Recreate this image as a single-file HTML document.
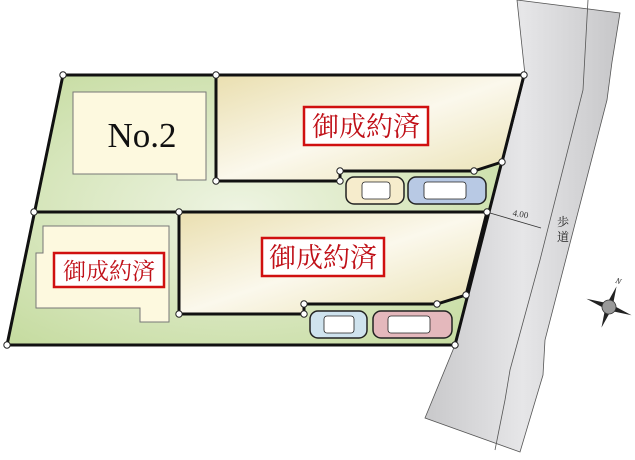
<!DOCTYPE html>
<html><head><meta charset="utf-8"><style>
html,body{margin:0;padding:0;background:#fff;}
svg{display:block;}
text{font-family:"Liberation Serif","Noto Serif CJK SC",serif;}
</style></head><body>
<svg width="635" height="460" viewBox="0 0 635 460" xmlns="http://www.w3.org/2000/svg">
<defs>
<linearGradient id="road" x1="0" y1="0" x2="1" y2="0">
<stop offset="0" stop-color="#c8c8ca"/><stop offset="0.5" stop-color="#e6e6e8"/><stop offset="1" stop-color="#c6c6c8"/></linearGradient>
<radialGradient id="grn" cx="0.45" cy="0.5" r="0.7">
<stop offset="0" stop-color="#eef4e2"/><stop offset="1" stop-color="#c3da9c"/></radialGradient>
<linearGradient id="lot" x1="0" y1="0" x2="1" y2="1">
<stop offset="0" stop-color="#eadfb0"/><stop offset="0.5" stop-color="#fbf8ec"/><stop offset="1" stop-color="#e9e0b0"/></linearGradient>
</defs>
<polygon points="517,0 620,13 612,62 607,100 545,340 543,375 520,452 425,418 455,345 487,212 525,75" fill="url(#road)" stroke="#555" stroke-width="0.8"/>
<polyline points="588,0 583,90 540,260 510,370 505,400 495,450" fill="none" stroke="#555" stroke-width="0.8"/>
<polygon points="63,75 524,75 455,345 7,345" fill="url(#grn)" stroke="#111" stroke-width="3"/>
<line x1="34" y1="212" x2="487" y2="212" stroke="#111" stroke-width="3"/>
<polygon points="216,75 524,75 502,162 474,171 340,171 340,181 216,181" fill="url(#lot)" stroke="#111" stroke-width="3"/>
<polygon points="179,212 487,212 466,295 437,304 304,304 304,314 179,314" fill="url(#lot)" stroke="#111" stroke-width="3"/>
<polygon points="73,92 206,92 206,180 177,180 177,174 73,174" fill="#fdf9df" stroke="#777" stroke-width="1"/>
<polygon points="43,226 169,226 169,322 140,322 140,308 36,308 36,253 43,253" fill="#fdf9df" stroke="#777" stroke-width="1"/>
<text x="142" y="147" font-size="35" text-anchor="middle" fill="#111">No.2</text>
<rect x="304" y="107" width="124" height="38" fill="#fff" stroke="#d01010" stroke-width="2.5"/>
<text x="366" y="136" font-size="27" text-anchor="middle" fill="#c01018">御成約済</text>
<rect x="262" y="238" width="122" height="38" fill="#fff" stroke="#d01010" stroke-width="2.5"/>
<text x="323" y="267" font-size="27" text-anchor="middle" fill="#c01018">御成約済</text>
<rect x="54" y="253" width="110" height="34" fill="#fff" stroke="#d01010" stroke-width="2.5"/>
<text x="109" y="279" font-size="23" text-anchor="middle" fill="#c01018">御成約済</text>
<g stroke="#222" stroke-width="1.5">
<rect x="346" y="177" width="58" height="27" rx="8" fill="#f6eccc"/>
<rect x="362" y="182" width="28" height="17" rx="3" fill="#fff" stroke-width="0.8"/>
<rect x="408" y="177" width="78" height="27" rx="8" fill="#b8c9e4"/>
<rect x="424" y="182" width="42" height="17" rx="3" fill="#fff" stroke-width="0.8"/>
<rect x="310" y="311" width="57" height="27" rx="8" fill="#cfe3ee"/>
<rect x="324" y="316" width="30" height="17" rx="3" fill="#fff" stroke-width="0.8"/>
<rect x="373" y="311" width="79" height="27" rx="8" fill="#e4b8bc"/>
<rect x="388" y="316" width="42" height="17" rx="3" fill="#fff" stroke-width="0.8"/>
</g>
<g fill="#fff" stroke="#222" stroke-width="1">
<circle cx="63" cy="75" r="3.2"/><circle cx="216" cy="75" r="3.2"/><circle cx="524" cy="75" r="3.2"/>
<circle cx="216" cy="181" r="3.2"/><circle cx="340" cy="171" r="3.2"/><circle cx="340" cy="181" r="3.2"/>
<circle cx="474" cy="171" r="3.2"/><circle cx="502" cy="162" r="3.2"/>
<circle cx="34" cy="212" r="3.2"/><circle cx="179" cy="212" r="3.2"/><circle cx="487" cy="212" r="3.2"/>
<circle cx="179" cy="314" r="3.2"/><circle cx="304" cy="304" r="3.2"/><circle cx="304" cy="314" r="3.2"/>
<circle cx="437" cy="304" r="3.2"/><circle cx="466" cy="295" r="3.2"/>
<circle cx="7" cy="345" r="3.2"/><circle cx="455" cy="345" r="3.2"/>
</g>
<line x1="490" y1="213" x2="541" y2="228" stroke="#333" stroke-width="0.8"/>
<text x="520" y="217" font-size="9" fill="#333" text-anchor="middle" transform="rotate(10 520 217)">4.00</text>
<text x="563" y="226" font-size="12" fill="#222" text-anchor="middle">歩</text>
<text x="563" y="241" font-size="12" fill="#222" text-anchor="middle">道</text>
<g transform="translate(609,307) rotate(20)">
<polygon points="0,-22 3,-3 0,0 -3,-3" fill="#222"/>
<polygon points="0,22 3,3 0,0 -3,3" fill="#222"/>
<polygon points="-24,0 -3,-3 0,0 -3,3" fill="#222"/>
<polygon points="24,0 3,-3 0,0 3,3" fill="#222"/>
<circle r="7" fill="#999" stroke="#333" stroke-width="0.8"/>
<text x="0" y="-25" font-size="8" font-style="italic" text-anchor="middle" fill="#222">N</text>
</g>
</svg>
</body></html>
